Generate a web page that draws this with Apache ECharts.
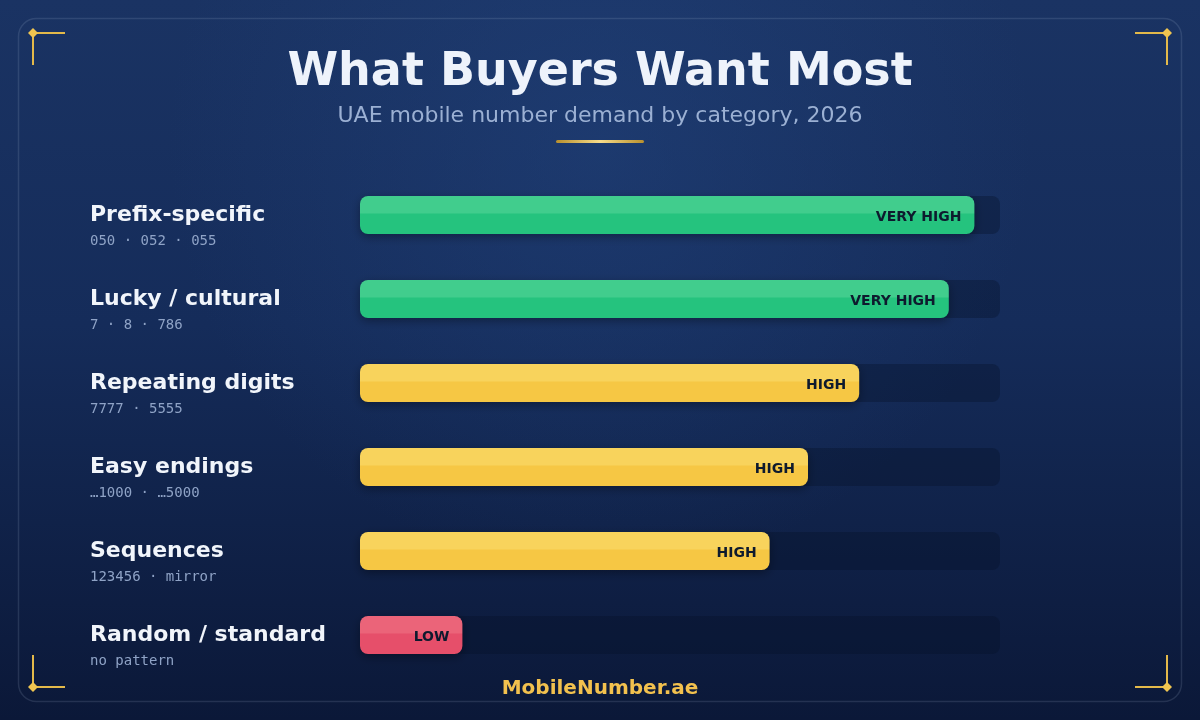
<!DOCTYPE html>
<html><head><meta charset="utf-8">
<script src="https://cdn.jsdelivr.net/npm/echarts@6/dist/echarts.min.js"></script>
<style>html,body{margin:0;padding:0;background:#132a57;}#c{width:1200px;height:720px;}</style>
</head><body><div id="c"></div>
<script>
const categories = ['Prefix-specific','Lucky / cultural','Repeating digits','Easy endings','Sequences','Random / standard'];
const subLabels = ['050 · 052 · 055','7 · 8 · 786','7777 · 5555','…1000 · …5000','123456 · mirror','no pattern'];
const values = [96, 92, 78, 70, 64, 16];
const levels = ['VERY HIGH','VERY HIGH','HIGH','HIGH','HIGH','LOW'];

const palette = {
  'VERY HIGH': ['#41cd8d', '#25c37e'],
  'HIGH': ['#f8d35c', '#f6c744'],
  'LOW': ['#eb6479', '#e64f6a']
};
function barFill(level){
  const p = palette[level];
  return new echarts.graphic.LinearGradient(0,0,0,1,[
    {offset:0,color:p[0]},{offset:0.44,color:p[0]},{offset:0.48,color:p[1]},{offset:1,color:p[1]}
  ]);
}

const chart = echarts.init(document.getElementById('c'), null, {renderer:'canvas'});
const corner = (x,y,dx,dy)=>[
  {type:'line',shape:{x1:x,y1:y,x2:x+dx,y2:y},style:{stroke:'#e3b94a',lineWidth:2},z:-1},
  {type:'line',shape:{x1:x,y1:y,x2:x,y2:y+dy},style:{stroke:'#e3b94a',lineWidth:2},z:-1},
  {type:'polygon',shape:{points:[[x,y-5],[x+5,y],[x,y+5],[x-5,y]]},style:{fill:'#f0c550'},z:-1}
];
chart.setOption({
  animation:false,
  graphic:[
    {type:'rect',shape:{x:0,y:0,width:1200,height:720},z:-10,silent:true,
     style:{fill:new echarts.graphic.LinearGradient(0,0,0,1,[
       {offset:0,color:'#1a3363'},{offset:0.45,color:'#152c5a'},{offset:1,color:'#0b1838'}])}},
    {type:'rect',shape:{x:0,y:0,width:1200,height:720},z:-9,silent:true,
     style:{fill:new echarts.graphic.RadialGradient(0.5,0.2,0.6,[
       {offset:0,color:'rgba(35,70,130,0.45)'},{offset:1,color:'rgba(35,70,130,0)'}])}},
    {type:'rect',shape:{x:18.5,y:18.5,width:1163,height:683,r:18},z:-5,silent:true,
     style:{fill:'none',stroke:'rgba(170,185,210,0.16)',lineWidth:1.5}},
    ...corner(33,33,32,32),...corner(1167,33,-32,32),...corner(33,687,32,-32),...corner(1167,687,-32,-32),
    {type:'text',left:'center',top:50,z:5,style:{text:'What Buyers Want Most',fill:'#eef3fb',font:'bold 46px "DejaVu Sans"'}},
    {type:'text',left:'center',top:105,z:5,style:{text:'UAE mobile number demand by category, 2026',fill:'#9bb0d3',font:'22px "DejaVu Sans"'}},
    {type:'rect',shape:{x:556,y:140,width:88,height:3,r:1.5},z:5,
     style:{fill:new echarts.graphic.LinearGradient(0,0,1,0,[{offset:0,color:'#b8902e'},{offset:0.5,color:'#f7dc8a'},{offset:1,color:'#b8902e'}])}},
    {type:'text',left:'center',top:679,z:5,style:{text:'MobileNumber.ae',fill:'#f2c14e',font:'bold 20px "DejaVu Sans"'}}
  ],
  grid:{left:360,width:640,top:173,height:504,containLabel:false},
  xAxis:{type:'value',min:0,max:100,show:false},
  yAxis:{type:'category',data:categories,inverse:true,
    axisLine:{show:false},axisTick:{show:false},splitLine:{show:false},
    axisLabel:{margin:270,align:'left',padding:[27,0,0,0],
      formatter:(v,i)=>'{n|'+v+'}\n{s|'+subLabels[i]+'}',
      rich:{n:{fontSize:22,fontWeight:'bold',color:'#f1f5fb',fontFamily:'DejaVu Sans',lineHeight:26},
            s:{fontSize:14,color:'#8fa3c6',fontFamily:'DejaVu Sans Mono',lineHeight:26}}}},
  series:[{type:'bar',barWidth:38,
    showBackground:true,
    backgroundStyle:{color:'rgba(6,16,40,0.35)',borderRadius:8},
    data:values.map((v,i)=>({value:v,itemStyle:{color:barFill(levels[i])}})),
    itemStyle:{borderRadius:8,shadowBlur:10,shadowColor:'rgba(0,0,0,0.35)',shadowOffsetY:3},
    label:{show:true,position:'insideRight',distance:13,offset:[0,2],formatter:p=>levels[p.dataIndex],
      color:'#0e1a2e',fontWeight:'bold',fontSize:14,fontFamily:'DejaVu Sans'}
  }]
});
</script></body></html>
